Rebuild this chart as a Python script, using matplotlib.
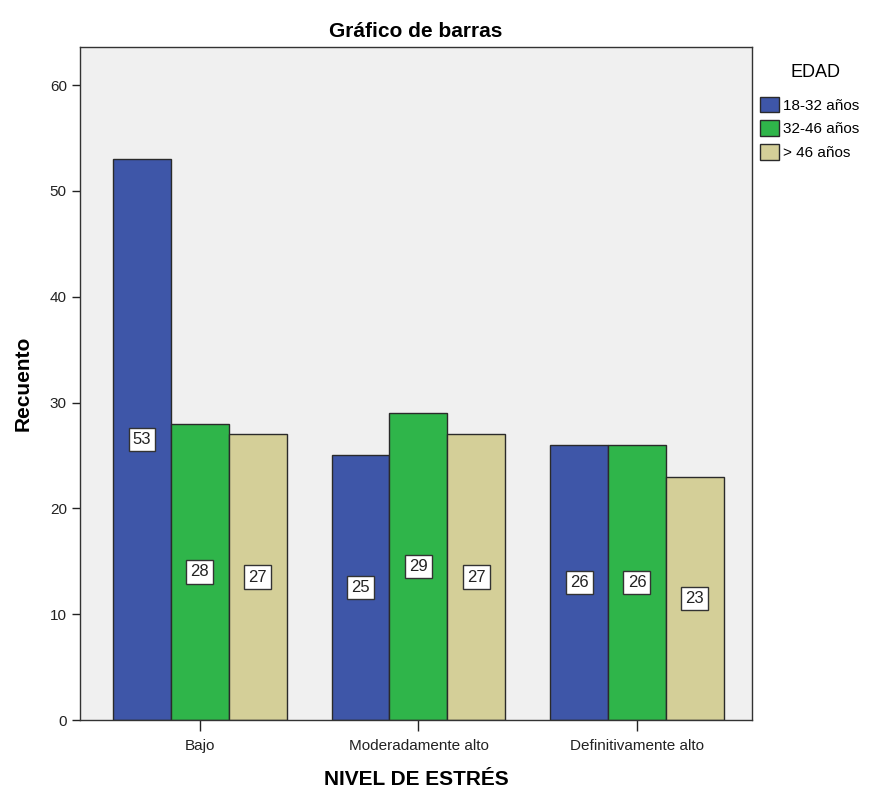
import matplotlib.pyplot as plt
import numpy as np
from matplotlib.patches import Patch

plt.rcParams['font.family'] = ['Liberation Sans', 'DejaVu Sans']

# datos
niveles = ['Bajo', 'Moderadamente alto', 'Definitivamente alto']
edades = ['18-32 años', '32-46 años', '> 46 años']
edad_18_32 = [53, 25, 26]
edad_32_46 = [28, 29, 26]
edad_46_mas = [27, 27, 23]
colores = ['#3e56a8', '#2fb54a', '#d4cf98']

series = [edad_18_32, edad_32_46, edad_46_mas]

fig = plt.figure(figsize=(8.76, 7.92), dpi=100)
ax = fig.add_axes([0.0913, 0.0909, 0.767, 0.8497])
ax.set_facecolor('#f0f0f0')

x = np.arange(len(niveles))
w = 0.265
for i, (vals, col) in enumerate(zip(series, colores)):
    pos = x + (i - 1) * w
    ax.bar(pos, vals, width=w, color=col, edgecolor='#2a2a2a', linewidth=1.0, zorder=2)
    for p, v in zip(pos, vals):
        ax.text(p, v / 2, str(v), ha='center', va='center', fontsize=12, color='#222222',
                bbox=dict(boxstyle='square,pad=0.25', facecolor='white', edgecolor='#333333', linewidth=1.0),
                zorder=3)

ax.set_xlim(-0.549, 2.526)
ax.set_ylim(0, 63.6)
ax.set_xticks(x)
ax.set_xticklabels(niveles, fontsize=11)
ax.set_yticks(range(0, 61, 10))
ax.tick_params(axis='y', labelsize=11, length=6, width=1, colors='#222222')
ax.tick_params(axis='x', length=8, width=1, colors='#222222', pad=6)
for s in ax.spines.values():
    s.set_color('#333333')
    s.set_linewidth(1.0)

ax.set_ylabel('Recuento', fontsize=15, fontweight='bold', labelpad=12)
ax.set_xlabel('NIVEL DE ESTRÉS', fontsize=15, fontweight='bold', labelpad=12)
ax.set_title('Gráfico de barras', fontsize=15, fontweight='bold', pad=7)

# leyenda
fig.text(0.931, 0.909, 'EDAD', ha='center', va='center', fontsize=13)
handles = [Patch(facecolor=c, edgecolor='#2a2a2a', label=l) for c, l in zip(colores, edades)]
fig.legend(handles=handles, loc='upper left', bbox_to_anchor=(0.868, 0.878),
           frameon=False, fontsize=11, handlelength=1.2, handleheight=1.2,
           handletextpad=0.3, labelspacing=0.5, borderaxespad=0, borderpad=0)

fig.savefig('out.png', dpi=100, facecolor='white')
